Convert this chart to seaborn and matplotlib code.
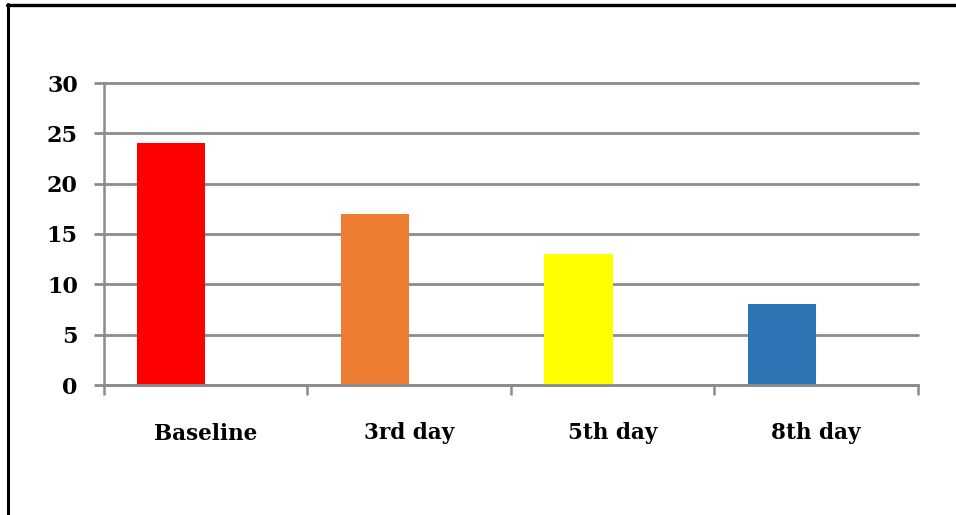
import matplotlib
matplotlib.use("Agg")
import matplotlib.pyplot as plt
from matplotlib.lines import Line2D
from matplotlib.ticker import FixedLocator
import numpy as np
import pandas as pd
import seaborn as sns

# Chart data
days = ["Baseline", "3rd day", "5th day", "8th day"]
scores = [24, 17, 13, 8]
bar_colors = ["#FF0000", "#ED7D31", "#FFFF00", "#2E75B6"]
y_ticks = [0, 5, 10, 15, 20, 25, 30]

sns.set_theme(style="white")
plt.rcParams["font.family"] = ["DejaVu Serif"]
plt.rcParams["text.color"] = "black"
plt.rcParams["xtick.labelcolor"] = "black"
plt.rcParams["ytick.labelcolor"] = "black"

# Two series per category (the second one empty), so each bar sits on the
# left half of its category slot.
df = pd.DataFrame({
    "day": days + days,
    "series": ["Series 1"] * len(days) + ["Series 2"] * len(days),
    "score": scores + [np.nan] * len(days),
})

fig = plt.figure(figsize=(9.56, 5.15), dpi=100)
ax = fig.add_axes([103.5 / 956, 1 - 385 / 515, (918 - 103.5) / 956, (385 - 83) / 515])

sns.barplot(data=df, x="day", y="score", hue="series",
            hue_order=["Series 1", "Series 2"], order=days,
            width=0.67, dodge=True, legend=False, ax=ax,
            saturation=1, linewidth=0, err_kws={"linewidth": 0})

# colour each bar by its category
bars = [p for p in ax.patches if np.isfinite(p.get_height()) and p.get_height() > 0]
bars.sort(key=lambda p: p.get_x())
for p, c in zip(bars, bar_colors):
    p.set_facecolor(c)
    p.set_edgecolor(c)

grid_gray = "#8C8C8C"
ax.set_xlim(-0.5, len(days) - 0.5)
ax.set_ylim(0, 30)
ax.yaxis.set_major_locator(FixedLocator(y_ticks))
ax.set_yticklabels([str(t) for t in y_ticks])
ax.yaxis.grid(True, color=grid_gray, linewidth=2.0)
ax.xaxis.grid(False)
ax.set_axisbelow(True)
for gl in ax.get_ygridlines():
    gl.set_clip_on(False)

for side in ["top", "right"]:
    ax.spines[side].set_visible(False)
ax.spines["left"].set_color(grid_gray)
ax.spines["left"].set_linewidth(1.8)
ax.spines["bottom"].set_color(grid_gray)
ax.spines["bottom"].set_linewidth(2.0)

# category boundary ticks below the axis, labels centred in each slot
ax.xaxis.set_minor_locator(FixedLocator(np.arange(-0.5, len(days), 1.0)))
ax.tick_params(axis="x", which="minor", length=7, width=1.8, color=grid_gray,
               direction="out", bottom=True)
ax.tick_params(axis="x", which="major", length=0, pad=27, labelsize=15.5,
               labelcolor="black")
ax.tick_params(axis="y", which="major", length=7.5, width=2.0, color=grid_gray,
               direction="out", left=True, pad=11, labelsize=16,
               labelcolor="black")
for lbl in ax.get_yticklabels():
    lbl.set_fontweight("bold")
for lbl in ax.get_xticklabels():
    lbl.set_fontweight("bold")

ax.set_xlabel("")
ax.set_ylabel("")

# chart frame: top and left edges
W, H = 956, 515
fig.add_artist(Line2D([7 / W, 1.0], [1 - 5 / H, 1 - 5 / H], color="black",
                      linewidth=2.4, transform=fig.transFigure))
fig.add_artist(Line2D([8 / W, 8 / W], [0.0, 1 - 4 / H], color="black",
                      linewidth=2.2, transform=fig.transFigure))

fig.savefig("out.png", dpi=100, facecolor="white")
